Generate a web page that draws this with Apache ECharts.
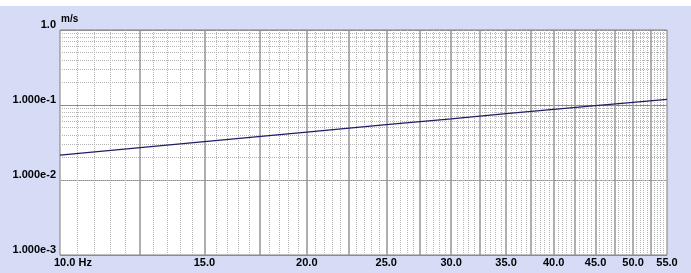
<!DOCTYPE html>
<html><head><meta charset="utf-8">
<script src="https://cdn.jsdelivr.net/npm/echarts@6/dist/echarts.min.js"></script>
<style>html,body{margin:0;padding:0;background:#d6dcf5}#c{width:691px;height:273px}</style>
</head><body><div id="c"></div>
<script>
// ---- data ----
const freqHz   = [10, 15, 20, 25, 30, 35, 40, 45, 50, 55];
const velocity = [0.0215, 0.0325, 0.0436, 0.0548, 0.0655, 0.0765, 0.0872, 0.0980, 0.1085, 0.119];
const xTickLabels = [10, 15, 20, 25, 30, 35, 40, 45, 50, 55];
const xMajorGrid  = [12.5, 15, 17.5, 20, 22.5, 25, 27.5, 30, 32.5, 35, 37.5, 40, 42.5, 45, 47.5, 50, 52.5];
const xMinorStep  = 0.5;
const yDecades    = [0.001, 0.01, 0.1];
const yMinorMult  = [2, 3, 4, 5, 6, 7, 8, 9];

const FONT = 'Liberation Sans';
const gridItems = [];
for (let f = 10 + xMinorStep; f < 55 - 1e-9; f += xMinorStep) {
  const v = Math.round(f * 10) / 10;
  if (xMajorGrid.indexOf(v) >= 0) continue;
  gridItems.push({ xAxis: v, lineStyle: { type: [1, 1], color: '#b4b4b4', width: 1 } });
}
yDecades.forEach(d => yMinorMult.forEach(m => {
  gridItems.push({ yAxis: +(d * m).toPrecision(3), lineStyle: { type: [1, 1], color: '#b4b4b4', width: 1 } });
}));
xMajorGrid.forEach(v => gridItems.push({ xAxis: v, lineStyle: { type: 'solid', color: '#959595', width: 1.5 } }));
xTickLabels.forEach((v, i) => gridItems.push({
  xAxis: v,
  lineStyle: { color: 'rgba(0,0,0,0)', width: 0 },
  label: {
    show: true, position: 'start', distance: 2,
    formatter: i === 0 ? v.toFixed(1) + ' Hz' : v.toFixed(1),
    align: i === 0 ? 'left' : 'center',
    padding: i === 0 ? [0, 0, 0, -6] : 0,
    color: '#000', fontSize: 11, fontWeight: 'bold', fontFamily: FONT
  }
}));

const chart = echarts.init(document.getElementById('c'), null, { renderer: 'canvas' });
chart.setOption({
  animation: false,
  backgroundColor: '#d6dcf5',
  graphic: [{ type: 'rect', left: 0, top: 0, shape: { width: 691, height: 6 }, style: { fill: '#ffffff' }, z: 0 }],
  grid: { left: 60, right: 24, top: 30, bottom: 18, show: true, backgroundColor: '#ffffff', borderColor: '#7c7c7c', borderWidth: 1 },
  xAxis: {
    type: 'log', logBase: 10, min: 10, max: 55,
    axisLine: { show: false }, axisTick: { show: false }, axisLabel: { show: false }, splitLine: { show: false }
  },
  yAxis: {
    type: 'log', logBase: 10, min: 0.001, max: 1,
    name: 'm/s', nameLocation: 'end', nameGap: 6, nameMoveOverlap: false,
    nameTextStyle: { align: 'left', verticalAlign: 'bottom', fontSize: 10, fontWeight: 'bold', color: '#000', fontFamily: FONT, padding: [0, 0, 0, 1] },
    axisLine: { show: false }, axisTick: { show: false },
    axisLabel: {
      margin: 4, verticalAlign: 'bottom', color: '#000', fontSize: 11, fontWeight: 'bold', fontFamily: FONT,
      showMinLabel: true, showMaxLabel: true,
      formatter: v => (v >= 0.999 ? '1.0' : v.toExponential(3))
    },
    splitLine: { show: true, lineStyle: { color: '#8c8c8c', width: 1 } }
  },
  series: [{
    type: 'line', z: 3, showSymbol: false, symbol: 'none',
    data: freqHz.map((f, i) => [f, velocity[i]]),
    lineStyle: { color: '#1e1e64', width: 1.3 },
    markLine: {
      z: 1, silent: true, symbol: ['none', 'none'], animation: false,
      label: { show: false },
      emphasis: { disabled: true },
      data: gridItems
    }
  }]
});
</script></body></html>
